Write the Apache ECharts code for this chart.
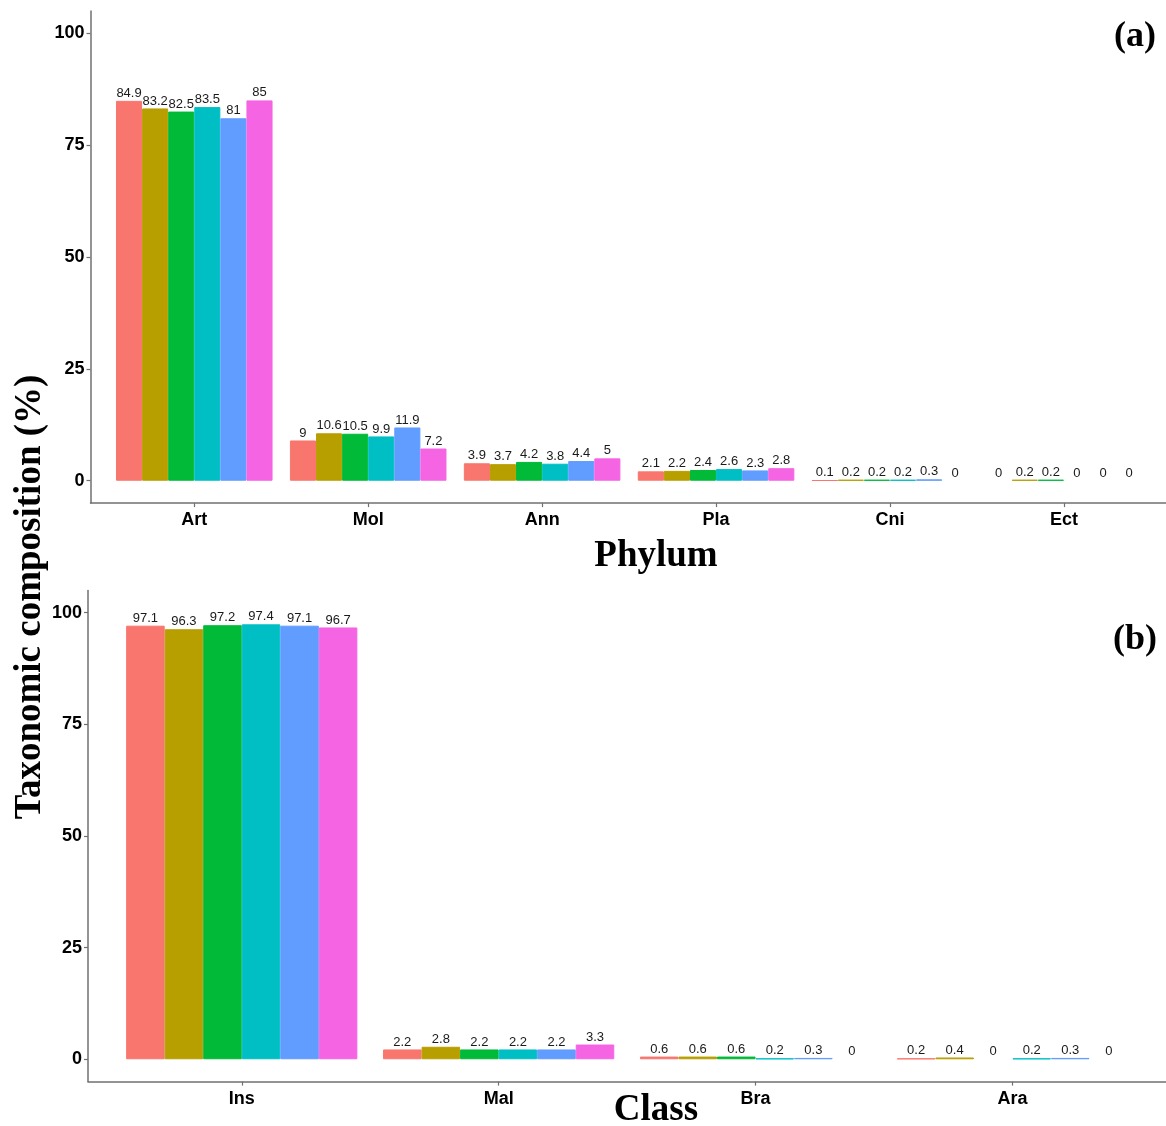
<!DOCTYPE html>
<html>
<head>
<meta charset="utf-8">
<script src="https://cdn.jsdelivr.net/npm/echarts@6/dist/echarts.min.js"></script>
<style>
  html, body { margin: 0; padding: 0; background: #fff; }
  #chart { width: 1166px; height: 1126px; }
</style>
</head>
<body>
<div id="chart"></div>
<script>
// ---------- data ----------
var phylumCategories = ['Art', 'Mol', 'Ann', 'Pla', 'Cni', 'Ect'];
var phylumG1 = [84.9, 9, 3.9, 2.1, 0.1, 0];
var phylumG2 = [83.2, 10.6, 3.7, 2.2, 0.2, 0.2];
var phylumG3 = [82.5, 10.5, 4.2, 2.4, 0.2, 0.2];
var phylumG4 = [83.5, 9.9, 3.8, 2.6, 0.2, 0];
var phylumG5 = [81, 11.9, 4.4, 2.3, 0.3, 0];
var phylumG6 = [85, 7.2, 5, 2.8, 0, 0];

var classCategories = ['Ins', 'Mal', 'Bra', 'Ara'];
var classG1 = [97.1, 2.2, 0.6, 0.2];
var classG2 = [96.3, 2.8, 0.6, 0.4];
var classG3 = [97.2, 2.2, 0.6, 0];
var classG4 = [97.4, 2.2, 0.2, 0.2];
var classG5 = [97.1, 2.2, 0.3, 0.3];
var classG6 = [96.7, 3.3, 0, 0];

var groupNames = ['Group 1', 'Group 2', 'Group 3', 'Group 4', 'Group 5', 'Group 6'];
var yTickValues = [0, 25, 50, 75, 100];

// ---------- styling ----------
var colors = ['#F8766D', '#B79F00', '#00BA38', '#00BFC4', '#619CFF', '#F564E3'];
var axisGrey = '#707070';
var sans = '"Liberation Sans", Arial, sans-serif';
var serif = '"Liberation Serif", "Times New Roman", serif';

var chart = echarts.init(document.getElementById('chart'), null, { renderer: 'canvas' });

function innerCatAxis(gridIndex, cats) {
  return {
    type: 'category', gridIndex: gridIndex, data: cats,
    boundaryGap: true,
    axisLine: { show: false, onZero: false },
    axisTick: { show: true, alignWithLabel: true, length: 4, lineStyle: { color: axisGrey, width: 1.2 } },
    axisLabel: { show: true, margin: 8, fontSize: 18, fontWeight: 'bold', color: '#000', fontFamily: sans },
    splitLine: { show: false }
  };
}
function frameValAxis(gridIndex) {
  return {
    type: 'value', gridIndex: gridIndex, min: 0, max: 1,
    axisLine: { show: true, onZero: false, lineStyle: { color: axisGrey, width: 1.5 } },
    axisTick: { show: false }, axisLabel: { show: false }, splitLine: { show: false }
  };
}
function hiddenY(gridIndex) {
  return { type: 'value', gridIndex: gridIndex, min: -5, max: 105, show: false,
           axisLine: { onZero: false }, splitLine: { show: false } };
}
function frameY(gridIndex) {
  return {
    type: 'value', gridIndex: gridIndex, min: -5, max: 105,
    axisLine: { show: true, onZero: false, lineStyle: { color: axisGrey, width: 1.5 } },
    axisTick: { show: true, length: 4, customValues: yTickValues, lineStyle: { color: axisGrey, width: 1.2 } },
    axisLabel: { show: true, customValues: yTickValues, margin: 6, fontSize: 18, fontWeight: 'bold', color: '#000', fontFamily: sans },
    splitLine: { show: false }
  };
}

function makeSeries(groups, axisIndex) {
  return groups.map(function (vals, i) {
    return {
      name: groupNames[i], type: 'bar',
      xAxisIndex: axisIndex, yAxisIndex: axisIndex,
      barGap: '0%', barCategoryGap: '10%',
      itemStyle: { color: colors[i], borderColor: colors[i], borderWidth: 0 },
      data: vals.map(function (v) {
        return { value: v, itemStyle: { borderWidth: v > 0 ? 1 : 0 } };
      }),
      label: { show: true, position: 'top', distance: 1, fontSize: 13, color: '#1a1a1a', fontFamily: sans },
      animation: false
    };
  });
}

var option = {
  animation: false,
  backgroundColor: '#fff',
  grid: [
    { left: 107.3, top: 10.9, width: 1043.6, height: 492.2 },
    { left: 90.5, top: 10.9, width: 1077, height: 492.2 },
    { left: 113.3, top: 590.4, width: 1027.6, height: 491.2 },
    { left: 88, top: 590.4, width: 1078.4, height: 491.2 }
  ],
  xAxis: [
    innerCatAxis(0, phylumCategories),
    frameValAxis(1),
    innerCatAxis(2, classCategories),
    frameValAxis(3)
  ],
  yAxis: [hiddenY(0), frameY(1), hiddenY(2), frameY(3)],
  series: makeSeries([phylumG1, phylumG2, phylumG3, phylumG4, phylumG5, phylumG6], 0)
    .concat(makeSeries([classG1, classG2, classG3, classG4, classG5, classG6], 2)),
  graphic: [
    { type: 'text', x: 656, y: 556, style: { text: 'Phylum', align: 'center', verticalAlign: 'middle',
      fontSize: 37, fontWeight: 'bold', fontFamily: serif, fill: '#000' } },
    { type: 'text', x: 656, y: 1110, style: { text: 'Class', align: 'center', verticalAlign: 'middle',
      fontSize: 37, fontWeight: 'bold', fontFamily: serif, fill: '#000' } },
    { type: 'text', x: 30, y: 597, rotation: Math.PI / 2, style: { text: 'Taxonomic composition (%)', align: 'center', verticalAlign: 'middle',
      fontSize: 37, fontWeight: 'bold', fontFamily: serif, fill: '#000' } },
    { type: 'text', x: 1135, y: 37, style: { text: '(a)', align: 'center', verticalAlign: 'middle',
      fontSize: 36, fontWeight: 'bold', fontFamily: serif, fill: '#000' } },
    { type: 'text', x: 1135, y: 640, style: { text: '(b)', align: 'center', verticalAlign: 'middle',
      fontSize: 36, fontWeight: 'bold', fontFamily: serif, fill: '#000' } }
  ]
};
chart.setOption(option);
</script>
</body>
</html>
